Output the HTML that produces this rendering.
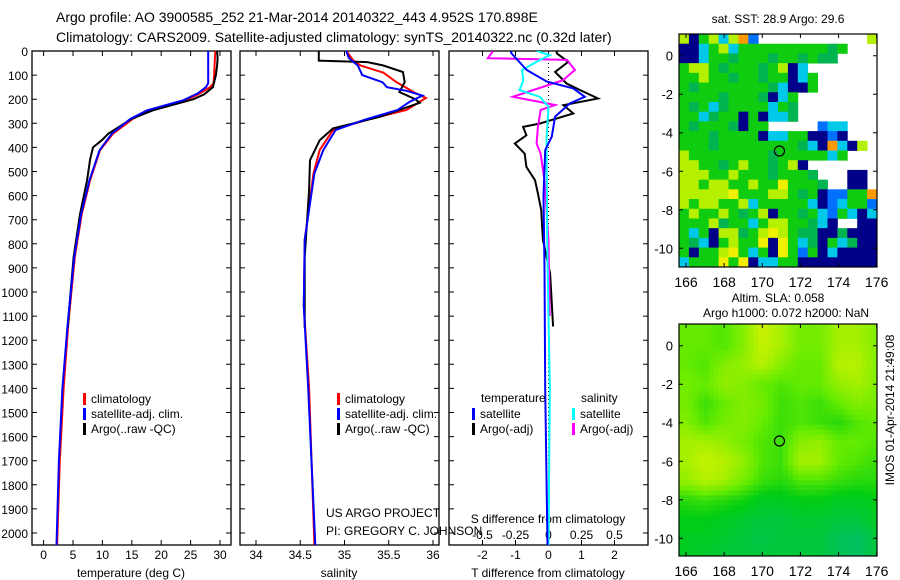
<!DOCTYPE html>
<html><head><meta charset="utf-8"><style>
html,body{margin:0;padding:0;background:#fff;}
svg{display:block;font-family:"Liberation Sans",sans-serif;}
text{fill:#000;}
</style></head><body>
<svg id="fig" width="900" height="580" viewBox="0 0 900 580" xmlns="http://www.w3.org/2000/svg">
<defs>
<clipPath id="c1"><rect x="32" y="51" width="199" height="494"/></clipPath>
<clipPath id="c2"><rect x="240" y="51" width="199" height="494"/></clipPath>
<clipPath id="c3"><rect x="449" y="51" width="199" height="494"/></clipPath>
</defs>
<text x="56" y="22" font-size="14">Argo profile: AO 3900585_252 21-Mar-2014 20140322_443 4.952S 170.898E</text>
<text x="56" y="42" font-size="14">Climatology: CARS2009. Satellite-adjusted climatology: synTS_20140322.nc (0.32d later)</text>
<text x="778" y="23" font-size="12" text-anchor="middle">sat. SST: 28.9 Argo: 29.6</text>
<text x="778" y="302" font-size="12" text-anchor="middle">Altim. SLA: 0.058</text>
<text x="786" y="317" font-size="12" text-anchor="middle">Argo h1000: 0.072 h2000: NaN</text>
<text transform="translate(894,410) rotate(-90)" font-size="12" text-anchor="middle">IMOS 01-Apr-2014 21:49:08</text>
<g id="g"></g>
</svg>
<script>
// ---- data ----
const depthTicks = [0,100,200,300,400,500,600,700,800,900,1000,1100,1200,1300,1400,1500,1600,1700,1800,1900,2000];
const tempTicks = [0,5,10,15,20,25,30];
const salTicks = [34,34.5,35,35.5,36];
const salTickLabels = ["34","34.5","35","35.5","36"];
const tdiffTicks = [-2,-1,0,1,2];
const sdiffTicks = [-0.5,-0.25,0,0.25,0.5];
const sdiffTickLabels = ["-0.5","-0.25","0","0.25","0.5"];

const tempClimDepth = [0,50,100,134,150,176,204,246,281,343,412,536,675,855,1131,1400,1700,2050];
const tempClim = [29.2,29.1,29.0,28.9,28.3,26.6,24.3,18.1,15.2,11.8,9.6,7.9,6.5,5.3,4.2,3.4,2.75,2.3];
const tempSatDepth = [0,50,100,134,150,176,204,246,281,343,412,536,675,855,1131,1400,1700,2050];
const tempSat = [28.0,28.0,28.0,28.0,27.6,26.2,23.8,17.6,14.8,11.6,9.5,7.8,6.4,5.2,4.1,3.2,2.6,2.2];
const tempArgoDepth = [0,30,60,100,150,180,200,246,281,343,370,400,450,536,675,855,1000,1150];
const tempArgo = [29.5,29.6,29.5,29.3,28.8,27.3,25.5,18.6,15.0,11.0,9.9,8.4,7.9,7.4,6.2,5.1,4.6,4.1];

const salClimDepth = [0,40,60,90,130,170,195,245,286,328,411,508,784,1060,1400,2050];
const salClim = [35.02,35.1,35.18,35.44,35.59,35.78,35.92,35.70,35.25,34.87,34.72,34.65,34.55,34.54,34.6,34.66];
const salSatDepth = [0,30,60,100,130,150,165,185,210,245,286,328,411,508,784,1060,1400,2050];
const salSat = [35.02,35.05,35.15,35.2,35.43,35.48,35.7,35.88,35.74,35.6,35.22,34.9,34.76,34.66,34.55,34.54,34.59,34.67];
const salArgoDepth = [0,40,46,60,87,129,170,200,215,273,321,370,453,577,854,1150];
const salArgo = [34.71,34.71,35.26,35.44,35.66,35.68,35.62,35.8,35.85,35.4,34.87,34.72,34.61,34.6,34.55,34.55];

const tdSatDepth = [0,10,79,127,155,190,217,272,355,411,600,900,1400,2050];
const tdSat = [-1.15,-1.12,-0.66,-0.05,0.75,1.1,0.65,0.2,0.1,-0.1,-0.15,-0.12,-0.1,-0.03];
const tdArgoDepth = [0,10,45,87,135,162,197,225,259,286,301,315,350,384,426,481,536,591,660,784,922,1143];
const tdArgo = [0.25,0.25,0.6,0.2,0.55,0.95,1.5,0.45,0.75,0.1,-0.26,-0.77,-0.67,-1.02,-0.72,-0.67,-0.41,-0.32,-0.22,-0.17,0.05,0.14];
const sdSatDepth = [0,17,37,79,121,162,190,231,369,784,1100,1400,2050];
const sdSat = [-0.09,0.01,-0.065,-0.2,-0.19,-0.22,-0.065,0,-0.015,-0.01,0,0.01,0];
const sdArgoDepth = [0,30,37,79,121,190,211,224,245,280,315,384,426,536,784,1100];
const sdArgo = [-0.42,-0.46,0.14,0.2,0.11,-0.27,-0.07,0.05,-0.06,-0.07,-0.08,-0.09,-0.06,-0.03,0,0.01];

const lonTicks = [166,168,170,172,174,176];
const latTicks = [0,-2,-4,-6,-8,-10];
const argoLon = 170.9, argoLat = -4.95;

// SST map colour-class grid (rows top->bottom, 20 columns)
const sstRows = [
"yngycyobwwwwwwwwwwwy",
"nncgycgggggggggmgwww",
"nncggmgggmggmgmmwwww",
"gyygmgggmgyncwwwwwww",
"ggyggmggmggncgwwwwww",
"gmgggggggmcnngwwwwww",
"ggggmgggmncgwwwwwwww",
"gmgcmggggcgmwwwwwwww",
"ggcmggngnccmwwwwwwww",
"gmgggmnggwwwwwbccwww",
"gggmggggnccggnnbnwww",
"gggmggggggggmcnocnyw",
"yggggggggmgggggcgwww",
"yyggmgyggmgynwwwwwww",
"yyyggygggmgggmwwwnnw",
"yygyyggyggYgggmwwnnw",
"yyyyyYgggyygmgnbbggo",
"ygyyggycgggggcnbcggb",
"gyggygmgynggmgcbgcnc",
"gggymggcgyyggmcnwwnn",
"gcgnyymgyYygmmnnmnnn",
"gmcngyggYnYgcmngcmnn",
"gnggyYgcgnYgbgncnnnn",
"cgggYgYnccggnnnnnnnn"];
const sstColors = {g:"#10cc10",m:"#00b450",y:"#b4f000",Y:"#f0f000",c:"#00c8e8",b:"#0070ff",n:"#000088",o:"#ff9900",w:"#ffffff"};

// SLA field (rows lat 1..-11, cols lon 166..176), 0=teal green, 1=yellow
const slaLats = [1,0,-1,-2,-3,-4,-5,-6,-7,-8,-9,-10,-11];
const slaLons = [166,167,168,169,170,171,172,173,174,175,176];
const slaGrid = [
[0.6,0.6,0.55,0.7,0.92,0.8,0.65,0.65,0.8,0.8,0.7],
[0.6,0.6,0.55,0.7,0.9,0.8,0.65,0.65,0.8,0.8,0.7],
[0.6,0.55,0.7,0.75,0.85,0.7,0.6,0.6,0.85,0.85,0.7],
[0.65,0.6,0.75,0.7,0.6,0.55,0.6,0.6,0.75,0.8,0.7],
[0.65,0.5,0.6,0.7,0.65,0.5,0.55,0.5,0.6,0.7,0.65],
[0.7,0.55,0.65,0.7,0.6,0.5,0.55,0.5,0.45,0.55,0.6],
[0.8,0.8,0.75,0.65,0.55,0.5,0.7,0.75,0.6,0.6,0.55],
[0.8,0.9,0.85,0.75,0.55,0.5,0.8,0.8,0.6,0.55,0.5],
[0.75,0.85,0.8,0.65,0.5,0.45,0.55,0.55,0.5,0.45,0.45],
[0.45,0.5,0.45,0.4,0.3,0.3,0.35,0.35,0.3,0.3,0.35],
[0.35,0.35,0.3,0.25,0.2,0.2,0.25,0.25,0.2,0.2,0.3],
[0.3,0.3,0.25,0.2,0.15,0.2,0.2,0.2,0.1,0.05,0.2],
[0.3,0.25,0.2,0.2,0.2,0.2,0.2,0.2,0.1,0.05,0.2]];

// ---- helpers ----
const NS = "http://www.w3.org/2000/svg";
const root = document.getElementById("g");
function mk(tag, attrs, parent){
  const e = document.createElementNS(NS, tag);
  for (const k in attrs) e.setAttribute(k, attrs[k]);
  (parent || root).appendChild(e);
  return e;
}
const yD = d => 51 + d * 0.241;
const xT = t => 43.6 + t * 5.88;
const xS = s => 256 + (s - 34) * 88.5;
const xTD = v => 548.5 + v * 33;
const xSD = v => 548.5 + v * 132;

function panel(x, name){
  const r = mk("rect", {x:x, y:51, width:199, height:494, fill:"none", stroke:"#000", "stroke-width":1.3});
  
  
  depthTicks.forEach(d => {
    const t = mk("path", {d:`M${x} ${yD(d)}h5M${x+199} ${yD(d)}h-5`, stroke:"#000", "stroke-width":1});
    
    
  });
}
function xticks(vals, fx, labels, y, name){
  vals.forEach((v,i) => {
    const t = mk("path", {d:`M${fx(v)} 545v-5M${fx(v)} 51v5`, stroke:"#000", "stroke-width":1});
    
    
    const l = mk("text", {x:fx(v), y:y, "font-size":12, "text-anchor":"middle"});
    l.textContent = labels ? labels[i] : String(v);
    
    
  });
}
function line(depths, vals, fx, color, clip, name){
  const p = depths.map((d,i) => (i ? "L" : "M") + fx(vals[i]).toFixed(1) + " " + yD(d).toFixed(1)).join("");
  const e = mk("path", {d:p, fill:"none", stroke:color, "stroke-width":2, "clip-path":`url(#${clip})`, "stroke-linejoin":"miter"});
  
  
}
function text(x, y, s, name, size, anchor){
  const e = mk("text", {x:x, y:y, "font-size":size||12, "text-anchor":anchor||"start"});
  e.textContent = s;
  
  
}
function legend(x, y, color, label, name){
  const b = mk("rect", {x:x, y:y-9, width:3, height:12, fill:color});
  
  
  text(x+8, y+1, label, name, 12);
}

// depth labels
depthTicks.forEach(d => text(28, yD(d)+5, String(d), 'depth-label', 12, "end"));

// panel 1 temperature
panel(32, 'temperature-panel');
xticks(tempTicks, xT, null, 559, 'temperature-x');
text(131, 577, "temperature (deg C)", 'temperature-x-title', 12, "middle");
line(tempClimDepth, tempClim, xT, "#ff0000", "c1", 'temperature-climatology-line');
line(tempArgoDepth, tempArgo, xT, "#000000", "c1", 'temperature-argo-line');
line(tempSatDepth, tempSat, xT, "#0000ff", "c1", 'temperature-satellite-line');
legend(83, 402, "#ff0000", "climatology", 'legend-climatology');
legend(83, 417, "#0000ff", "satellite-adj. clim.", 'legend-satellite');
legend(83, 432, "#000000", "Argo(..raw -QC)", 'legend-argo');

// panel 2 salinity
panel(240, 'salinity-panel');
xticks(salTicks, xS, salTickLabels, 559, 'salinity-x');
text(339, 577, "salinity", 'salinity-x-title', 12, "middle");
line(salClimDepth, salClim, xS, "#ff0000", "c2", 'salinity-climatology-line');
line(salArgoDepth, salArgo, xS, "#000000", "c2", 'salinity-argo-line');
line(salSatDepth, salSat, xS, "#0000ff", "c2", 'salinity-satellite-line');
legend(337, 402, "#ff0000", "climatology", 'legend-climatology-2');
legend(337, 417, "#0000ff", "satellite-adj. clim.", 'legend-satellite-2');
legend(337, 432, "#000000", "Argo(..raw -QC)", 'legend-argo-2');
text(326, 517, "US ARGO PROJECT", 'project-label', 12);
text(326, 535, "PI: GREGORY C. JOHNSON", 'pi-label', 12);

// panel 3 differences
panel(449, 'difference-panel');
xticks(tdiffTicks, xTD, null, 559, 'tdiff-x');
sdiffTicks.forEach((v,i) => text(xSD(v), 539, sdiffTickLabels[i], 'sdiff-tick-label', 12, "middle"));
text(548, 523, "S difference from climatology", 'sdiff-x-title', 12, "middle");
text(548, 577, "T difference from climatology", 'tdiff-x-title', 12, "middle");
const zl = mk("path", {d:`M548.5 51V545`, stroke:"#000", "stroke-width":1, "stroke-dasharray":"1 3"});


line(tdArgoDepth, tdArgo, xTD, "#000000", "c3", 'tdiff-argo-line');
line(sdArgoDepth, sdArgo, xSD, "#ff00ff", "c3", 'sdiff-argo-line');
line(sdSatDepth, sdSat, xSD, "#00ffff", "c3", 'sdiff-satellite-line');
line(tdSatDepth, tdSat, xTD, "#0000ff", "c3", 'tdiff-satellite-line');
text(481, 402, "temperature", 'legend-temperature-header', 12);
text(581, 402, "salinity", 'legend-salinity-header', 12);
legend(472, 417, "#0000ff", "satellite", 'legend-t-satellite');
legend(472, 432, "#000000", "Argo(-adj)", 'legend-t-argo');
legend(572, 417, "#00ffff", "satellite", 'legend-s-satellite');
legend(572, 432, "#ff00ff", "Argo(-adj)", 'legend-s-argo');

// ---- maps ----
function mapFrame(top, bottom, lat0y, name){
  const L = 679, R = 877;
  const fxLon = lon => 686 + (lon - 166) * 19.07;
  const fyLat = lat => lat0y - lat * 19.26;
  const r = mk("rect", {x:L, y:top, width:R-L, height:bottom-top, fill:"none", stroke:"#000", "stroke-width":1.2});
  
  
  lonTicks.forEach(v => {
    const t = mk("path", {d:`M${fxLon(v)} ${bottom}v-4M${fxLon(v)} ${top}v4`, stroke:"#000"});
    
    
    text(fxLon(v), bottom+20, String(v), name + '-lon-label', 14, "middle");
  });
  latTicks.forEach(v => {
    const t = mk("path", {d:`M${L} ${fyLat(v)}h4M${R} ${fyLat(v)}h-4`, stroke:"#000"});
    
    
    text(673, fyLat(v)+5, String(v), name + '-lat-label', 13, "end");
  });
  const c = mk("circle", {cx:fxLon(argoLon), cy:fyLat(argoLat), r:5, fill:"none", stroke:"#000", "stroke-width":1.2});
  
  
}

// SST map cells
(function(){
  const L = 679, T = 34, W = 198, H = 233;
  const nr = sstRows.length, nc = sstRows[0].length;
  const cw = W / nc, ch = H / nr;
  sstRows.forEach((row, i) => {
    for (let j = 0; j < nc; j++) {
      const col = sstColors[row[j]];
      if (row[j] === "w") continue;
      const e = mk("rect", {x:(L + j*cw).toFixed(2), y:(T + i*ch).toFixed(2), width:(cw+0.4).toFixed(2), height:(ch+0.4).toFixed(2), fill:col});
      
      
    }
  });
})();
mapFrame(34, 267, 55.7, 'sst-map');

// SLA map cells (bilinear upsample of grid)
(function(){
  const L = 679, T = 324, W = 198, H = 232;
  const fxLon = lon => 686 + (lon - 166) * 19.07;
  const fyLat = lat => 345.7 - lat * 19.26;
  const nx = 40, ny = 46;
  const cw = W/nx, ch = H/ny;
  function val(lon, lat){
    let fi = (slaLats[0] - lat); fi = Math.max(0, Math.min(slaLats.length-1.001, fi));
    let fj = (lon - slaLons[0]); fj = Math.max(0, Math.min(slaLons.length-1.001, fj));
    const i = Math.floor(fi), j = Math.floor(fj), a = fi-i, b = fj-j;
    return slaGrid[i][j]*(1-a)*(1-b) + slaGrid[i+1][j]*a*(1-b) + slaGrid[i][j+1]*(1-a)*b + slaGrid[i+1][j+1]*a*b;
  }
  function color(v){
    const stops = [[0,[0,190,110]],[0.35,[0,205,20]],[0.6,[100,235,0]],[1,[230,245,0]]];
    for (let k = 1; k < stops.length; k++) {
      if (v <= stops[k][0]) {
        const t = (v - stops[k-1][0])/(stops[k][0]-stops[k-1][0]);
        const c = stops[k-1][1].map((c0,m) => Math.round(c0 + (stops[k][1][m]-c0)*t));
        return `rgb(${c[0]},${c[1]},${c[2]})`;
      }
    }
    return "rgb(230,245,0)";
  }
  for (let i = 0; i < ny; i++) for (let j = 0; j < nx; j++) {
    const x = L + j*cw, y = T + i*ch;
    const lon = 166 + (x + cw/2 - 686)/19.07, lat = (345.7 - (y + ch/2))/19.26;
    const e = mk("rect", {x:x.toFixed(2), y:y.toFixed(2), width:(cw+0.4).toFixed(2), height:(ch+0.4).toFixed(2), fill:color(val(lon, lat))});
    
    
  }
})();
mapFrame(324, 556, 345.7, 'sla-map');
</script>
</body></html>
